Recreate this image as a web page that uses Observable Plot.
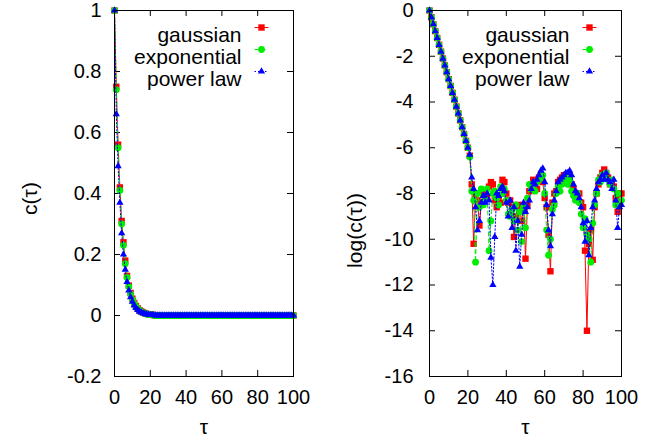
<!DOCTYPE html>
<html>
<head>
<meta charset="utf-8">
<script src="https://cdn.jsdelivr.net/npm/d3@7"></script>
<script src="https://cdn.jsdelivr.net/npm/@observablehq/plot@0.6"></script>
<style>
  html, body { margin: 0; padding: 0; background: #fff; }
  #wrap { position: relative; width: 667px; height: 447px; overflow: hidden; font-family: "Liberation Sans", Arial, sans-serif; }
  #wrap svg { position: absolute; top: 0; background: transparent; }
</style>
</head>
<body>
<div id="wrap"></div>
<script>
// ---------- data ----------
const seriesNames = ["gaussian", "exponential", "power law"];
const tau = d3.range(0, 101);               // lag index 0..100
const xTicks = [0, 20, 40, 60, 80, 100];
const yTicksLeft = [-0.2, 0, 0.2, 0.4, 0.6, 0.8, 1];
const yTicksRight = [0, -2, -4, -6, -8, -10, -12, -14, -16];

// left panel: c(tau)
const cGaussian = [
  1, 0.75, 0.56, 0.42, 0.31, 0.24, 0.18, 0.13, 0.098, 0.074, 0.055, 0.041, 0.031, 0.023, 0.017, 0.013, 0.0097, 0.0073, 0.0054, 0.0041,
  0.003, 0.0022, 0.0016, 0, 0, 0, 0, 0, 0, 0, 0, 0, 0, 0, 0, 0, 0, 0, 0, 0,
  0, 0, 0, 0, 0, 0, 0, 0, 0, 0, 0, 0, 0, 0, 0, 0, 0, 0, 0, 0,
  0, 0, 0, 0, 0, 0, 0, 0, 0, 0, 0, 0, 0, 0, 0, 0, 0, 0, 0, 0,
  0, 0, 0, 0, 0, 0, 0, 0, 0, 0, 0, 0, 0, 0, 0, 0, 0, 0, 0, 0, 0
];
const cExponential = [
  1, 0.74, 0.55, 0.41, 0.30, 0.23, 0.17, 0.125, 0.095, 0.07, 0.052, 0.039, 0.029, 0.022, 0.016, 0.012, 0.009, 0.0066, 0.005, 0.0037,
  0.0027, 0.002, 0.0015, 0, 0, 0, 0, 0, 0, 0, 0, 0, 0, 0, 0, 0, 0, 0, 0, 0,
  0, 0, 0, 0, 0, 0, 0, 0, 0, 0, 0, 0, 0, 0, 0, 0, 0, 0, 0, 0,
  0, 0, 0, 0, 0, 0, 0, 0, 0, 0, 0, 0, 0, 0, 0, 0, 0, 0, 0, 0,
  0, 0, 0, 0, 0, 0, 0, 0, 0, 0, 0, 0, 0, 0, 0, 0, 0, 0, 0, 0, 0
];
const cPowerLaw = [
  1, 0.66, 0.49, 0.37, 0.27, 0.20, 0.15, 0.11, 0.082, 0.06, 0.045, 0.033, 0.025, 0.018, 0.013, 0.01, 0.0074, 0.0055, 0.004, 0.003,
  0.0022, 0.0016, 0.0012, 0, 0, 0, 0, 0, 0, 0, 0, 0, 0, 0, 0, 0, 0, 0, 0, 0,
  0, 0, 0, 0, 0, 0, 0, 0, 0, 0, 0, 0, 0, 0, 0, 0, 0, 0, 0, 0,
  0, 0, 0, 0, 0, 0, 0, 0, 0, 0, 0, 0, 0, 0, 0, 0, 0, 0, 0, 0,
  0, 0, 0, 0, 0, 0, 0, 0, 0, 0, 0, 0, 0, 0, 0, 0, 0, 0, 0, 0, 0
];

// right panel: log(c(tau))
const logGaussian = [
  0, -0.3, -0.6, -0.9, -1.2, -1.5, -1.8, -2.1, -2.4, -2.7, -3.0, -3.3, -3.6, -3.9, -4.2, -4.5, -4.8, -5.1, -5.4, -5.7,
  -6.0, -6.35, -7.6, -10.2, -8.1, -8.3, -9.4, -8.4, -8.0, -7.9, -8.2, -7.7, -7.5, -7.6, -8.3, -8.6, -8.1, -8.4, -7.4, -7.5,
  -8.0, -8.4, -8.3, -8.6, -9.9, -9.0, -8.5, -8.7, -9.2, -8.5, -10.85, -8.5, -7.9, -7.6, -7.4, -7.5, -7.8, -7.3, -7.2, -7.5,
  -8.2, -8.6, -9.8, -11.4, -8.4, -8.0, -7.9, -7.5, -7.4, -7.3, -7.2, -7.3, -7.4, -7.3, -7.6, -7.8, -8.0, -8.2, -8.0, -8.4,
  -8.6, -10.5, -14.0, -10.2, -9.6, -10.9, -8.6, -8.0, -7.6, -7.3, -7.1, -6.95, -7.1, -7.3, -7.6, -7.5, -7.7, -8.2, -8.8, -8.0, -8.0
];
const logExponential = [
  0, -0.3, -0.6, -0.9, -1.2, -1.5, -1.8, -2.1, -2.4, -2.7, -3.0, -3.3, -3.6, -3.9, -4.2, -4.5, -4.8, -5.1, -5.4, -5.7,
  -6.0, -6.4, -7.9, -8.3, -11.0, -8.0, -8.6, -7.8, -8.5, -8.3, -7.8, -10.5, -9.2, -8.0, -7.9, -8.2, -8.5, -7.7, -8.0, -7.8,
  -8.3, -8.9, -9.0, -8.7, -9.2, -8.5, -9.6, -8.8, -10.1, -8.6, -9.5, -8.2, -7.6, -7.8, -7.6, -7.9, -7.5, -7.4, -7.3, -7.2,
  -8.0, -9.6, -10.7, -10.0, -8.7, -8.5, -8.0, -7.7, -7.9, -7.6, -7.5, -7.3, -7.6, -7.4, -7.9, -8.1, -8.3, -8.0, -8.4, -8.9,
  -9.5, -9.1, -9.8, -10.0, -11.0, -9.3, -8.5, -8.0, -7.4, -7.5, -7.2, -7.3, -7.1, -7.4, -7.6, -7.4, -7.8, -8.5, -8.0, -8.4, -8.3
];
const logPowerLaw = [
  0, -0.3, -0.6, -0.9, -1.2, -1.5, -1.8, -2.1, -2.4, -2.7, -3.0, -3.3, -3.6, -3.9, -4.2, -4.5, -4.8, -5.1, -5.4, -5.7,
  -6.0, -6.3, -7.3, -7.8, -8.6, -9.6, -9.2, -8.4, -8.1, -8.4, -8.0, -8.3, -10.8, -12.0, -9.9, -8.0, -8.1, -7.8, -7.7, -7.9,
  -8.4, -9.0, -8.3, -9.5, -8.6, -10.5, -9.2, -11.2, -9.8, -8.4, -8.8, -8.6, -8.3, -7.8, -7.5, -7.6, -7.4, -7.2, -7.0, -6.9,
  -7.5, -8.5, -9.6, -10.3, -8.9, -8.3, -7.9, -7.5, -7.4, -7.3, -7.2, -7.1, -7.1, -7.0, -7.2, -7.6, -7.9, -8.0, -8.2, -8.6,
  -9.3, -10.1, -9.2, -10.7, -9.5, -8.6, -8.3, -7.8, -7.5, -7.4, -7.2, -7.4, -7.1, -7.4, -7.5, -7.8, -7.4, -8.3, -9.5, -8.6, -8.5
];

// ---------- styling ----------
const styles = [
  {name: seriesNames[0], color: "#ff0000", symbol: "square",   r: 3.6, dash: null},
  {name: seriesNames[1], color: "#00ee00", symbol: "circle",   r: 3.4, dash: "4,3"},
  {name: seriesNames[2], color: "#0000ff", symbol: "triangle", r: 2.7, dash: "1.5,2"}
];
const fontFamily = "'Liberation Sans', Arial, sans-serif";
const H = 447, MT = 10, MB = 71, TICK = 6;
const innerH = H - MT - MB;

const legendLine = {draw(ctx) { ctx.moveTo(-7, 0); ctx.lineTo(7, 0); }};

function panel({width, marginLeft, marginRight, yDomain, yTicks, tickPad, cols, ylabel, ylabelDx, ylabelDy}) {
  const innerW = width - marginLeft - marginRight;
  const marks = [
    Plot.ruleX(xTicks, {x: d => d, insetTop: innerH - TICK, stroke: "#000"}),
    Plot.ruleX(xTicks, {x: d => d, insetBottom: innerH - TICK, stroke: "#000"}),
    Plot.ruleY(yTicks, {y: d => d, insetRight: innerW - TICK, stroke: "#000"}),
    Plot.ruleY(yTicks, {y: d => d, insetLeft: innerW - TICK, stroke: "#000"})
  ];
  styles.forEach((s, k) => {
    const rows = tau.map((t, i) => ({t, v: cols[k][i]}));
    marks.push(Plot.line(rows, {x: "t", y: "v", stroke: s.color, strokeWidth: 1, strokeDasharray: s.dash}));
    marks.push(Plot.dot(rows, {x: "t", y: "v", fill: s.color, symbol: s.symbol, r: s.r}));
  });
  styles.forEach((s, k) => {
    const dy = 17 + 22 * k;
    marks.push(Plot.text([s.name], {text: d => d, frameAnchor: "top-right", dx: -52, dy, textAnchor: "end", fontSize: 21, fill: "#000"}));
    marks.push(Plot.dot([s.name], {frameAnchor: "top-right", dx: -32, dy, symbol: legendLine, stroke: s.color, strokeWidth: 1, strokeDasharray: s.dash, fill: "none"}));
    marks.push(Plot.dot([s.name], {frameAnchor: "top-right", dx: -32, dy, symbol: s.symbol, r: s.r, fill: s.color}));
  });
  marks.push(Plot.text([ylabel], {text: d => d, frameAnchor: "left", dx: ylabelDx, dy: ylabelDy, rotate: -90, textAnchor: "middle", fontSize: 21, fill: "#000"}));
  marks.push(Plot.text(["τ"], {text: d => d, frameAnchor: "bottom", dy: 57, textAnchor: "middle", fontSize: 21, fill: "#000"}));
  marks.push(Plot.frame({stroke: "#000", strokeWidth: 1}));
  return Plot.plot({
    width, height: H,
    marginLeft, marginRight, marginTop: MT, marginBottom: MB,
    style: {fontFamily, fontSize: "20px", color: "#000", background: "transparent", overflow: "visible"},
    x: {domain: [0, 100], ticks: xTicks, tickSize: 0, tickPadding: 13, tickFormat: d => String(d), label: null},
    y: {domain: yDomain, ticks: yTicks, tickSize: 0, tickPadding: tickPad, tickFormat: d => String(d), label: null},
    marks
  });
}

const left = panel({
  width: 330, marginLeft: 114, marginRight: 37,
  yDomain: [-0.2, 1], yTicks: yTicksLeft, tickPad: 13,
  cols: [cGaussian, cExponential, cPowerLaw],
  ylabel: "c(τ)", ylabelDx: -84, ylabelDy: 5
});
const right = panel({
  width: 337, marginLeft: 99, marginRight: 46,
  yDomain: [-16, 0], yTicks: yTicksRight, tickPad: 16,
  cols: [logGaussian, logExponential, logPowerLaw],
  ylabel: "log(c(τ))", ylabelDx: -74, ylabelDy: 37
});
left.style.left = "0px";
right.style.left = "330px";
document.getElementById("wrap").append(left, right);
</script>
</body>
</html>
